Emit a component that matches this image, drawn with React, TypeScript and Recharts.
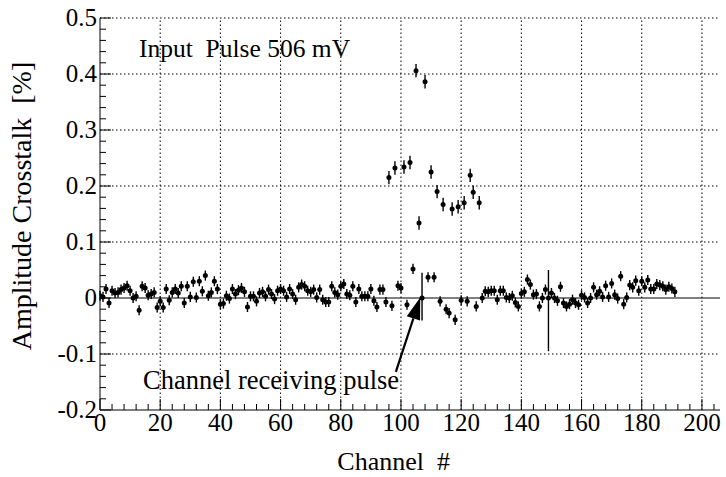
import React from "react";
import { ScatterChart, Scatter, XAxis, YAxis, ErrorBar, ReferenceLine } from "recharts";

// amplitude crosstalk [%] per channel, channel 0..191
const crosstalk = [
  0.004, 0.002, 0.016, -0.009, 0.013, 0.009, 0.010, 0.015, 0.018, 0.022,
  0.013, 0.000, 0.003, -0.022, 0.021, 0.018, 0.005, 0.007, 0.010, -0.017,
  -0.006, -0.017, 0.016, -0.004, 0.010, 0.016, 0.009, 0.021, -0.009, 0.021,
  0.002, 0.029, 0.001, 0.030, 0.012, 0.040, 0.004, 0.010, 0.030, 0.016,
  -0.011, -0.010, 0.004, -0.001, 0.016, 0.007, 0.014, 0.018, 0.011, -0.016,
  0.003, 0.003, -0.006, 0.009, 0.011, 0.003, 0.015, 0.007, -0.002, 0.013,
  0.016, 0.013, 0.002, 0.016, 0.007, -0.003, 0.019, 0.024, 0.021, 0.013,
  0.011, 0.015, 0.001, 0.015, -0.003, -0.007, -0.007, 0.021, 0.010, 0.006,
  0.021, 0.025, 0.007, 0.005, 0.021, -0.007, 0.016, 0.003, 0.003, 0.003,
  0.016, -0.005, -0.016, 0.015, 0.015, -0.007, 0.215, -0.014, 0.232, 0.022,
  0.018, 0.234, -0.012, 0.242, 0.052, 0.406, 0.134, 0.000, 0.386, 0.037,
  0.225, 0.037, 0.190, -0.006, 0.167, -0.020, -0.027, 0.159, -0.039, 0.163,
  -0.004, 0.170, -0.006, 0.219, 0.189, -0.015, 0.170, 0.000, 0.012, 0.011,
  0.013, 0.013, -0.003, 0.013, 0.013, 0.001, 0.000, 0.004, -0.008, -0.015,
  0.008, 0.011, 0.033, 0.024, 0.006, 0.007, -0.015, 0.000, 0.015, 0.000,
  0.009, 0.000, -0.005, 0.020, -0.009, -0.015, -0.011, -0.003, -0.009, -0.012,
  0.005, 0.001, -0.009, 0.000, 0.019, 0.006, 0.012, 0.002, 0.022, 0.002,
  0.026, 0.006, -0.001, 0.039, -0.011, 0.001, 0.023, 0.019, 0.031, 0.013,
  0.030, 0.019, 0.032, 0.016, 0.016, 0.025, 0.023, 0.021, 0.015, 0.020,
  0.017, 0.011,
];

// typical statistical error, and channels with a different error [low, high]
const baseError = 0.009;
const errorChannels = [96, 98, 101, 103, 105, 106, 108, 110, 112, 114, 117, 119, 121, 123, 124, 126, 107, 149];
const errorValues = [
  [0.012, 0.012], [0.012, 0.012], [0.012, 0.012], [0.012, 0.012], [0.012, 0.012], [0.012, 0.012],
  [0.012, 0.012], [0.012, 0.012], [0.012, 0.012], [0.012, 0.012], [0.012, 0.012], [0.012, 0.012],
  [0.012, 0.012], [0.012, 0.012], [0.012, 0.012], [0.012, 0.012], [0.04, 0.045], [0.095, 0.05],
];

const xMajorTicks = [0, 20, 40, 60, 80, 100, 120, 140, 160, 180, 200];
const yMajorTicks = [-0.2, -0.1, 0, 0.1, 0.2, 0.3, 0.4, 0.5];

const xTicks = Array.from({ length: 52 }, (_, i) => i * 4);
const yTicks = Array.from({ length: 36 }, (_, i) => Math.round((-0.2 + i * 0.02) * 100) / 100);

const data = crosstalk.map((v, ch) => {
  const k = errorChannels.indexOf(ch);
  return { channel: ch, crosstalk: v, err: k >= 0 ? errorValues[k] : [baseError, baseError] };
});

const SERIF = '"Liberation Serif", "Times New Roman", serif';

function XTick(props: any) {
  const { x, y, payload } = props;
  const v = payload.value;
  const major = xMajorTicks.includes(v);
  return (
    <g>
      <line x1={x} x2={x} y1={y} y2={y - (major ? 11 : 6)} stroke="#000" />
      {major && (
        <text x={x} y={y + 21} textAnchor="middle" fontFamily={SERIF} fontSize={25} fill="#000">
          {v}
        </text>
      )}
    </g>
  );
}

function YTick(props: any) {
  const { x, y, payload } = props;
  const v = payload.value;
  const major = yMajorTicks.some((t) => Math.abs(t - v) < 1e-9);
  return (
    <g>
      <line x1={x} x2={x + (major ? 11 : 6)} y1={y} y2={y} stroke="#000" />
      {major && (
        <text x={x - 3} y={y + 8} textAnchor="end" fontFamily={SERIF} fontSize={25} fill="#000">
          {v}
        </text>
      )}
    </g>
  );
}

function Arrow(props: any) {
  const { x1, y1, x2, y2 } = props;
  const len = Math.hypot(x2 - x1, y2 - y1);
  const ux = (x2 - x1) / len;
  const uy = (y2 - y1) / len;
  const hl = 22;
  const hw = 7;
  const bx = x2 - ux * hl;
  const by = y2 - uy * hl;
  return (
    <g>
      <line x1={x1} y1={y1} x2={bx} y2={by} stroke="#000" strokeWidth={2.2} />
      <polygon
        points={`${x2},${y2} ${bx - uy * hw},${by + ux * hw} ${bx + uy * hw},${by - ux * hw}`}
        fill="#000"
      />
    </g>
  );
}

const Dot = (p: any) => <circle cx={p.cx} cy={p.cy} r={2.5} fill="#000" />;

export default function App() {
  return (
    <div style={{ position: "absolute", left: 0, top: 0, width: 726, height: 477, background: "#fff" }}>
      <ScatterChart width={726} height={477} margin={{ top: 18, right: 6, bottom: 0, left: 0 }}>
        {xMajorTicks.slice(1).map((t) => (
          <ReferenceLine key={"gx" + t} x={t} stroke="#000" strokeDasharray="1.5 2.5" />
        ))}
        {yMajorTicks.filter((t) => t !== 0 && t !== -0.2).map((t) => (
          <ReferenceLine key={"gy" + t} y={t} stroke="#000" strokeDasharray="1.5 2.5" />
        ))}
        <ReferenceLine y={0} stroke="#000" strokeWidth={1} />
        <XAxis
          type="number"
          dataKey="channel"
          domain={[0, 206]}
          ticks={xTicks}
          interval={0}
          allowDataOverflow
          height={67}
          tickSize={0}
          tickMargin={0}
          tickLine={false}
          axisLine={{ stroke: "#000" }}
          tick={<XTick />}
        />
        <YAxis
          type="number"
          dataKey="crosstalk"
          domain={[-0.2, 0.5]}
          ticks={yTicks}
          interval={0}
          allowDataOverflow
          width={100}
          tickSize={0}
          tickMargin={0}
          tickLine={false}
          axisLine={{ stroke: "#000" }}
          tick={<YTick />}
        />
        <Scatter data={data} fill="#000" shape={Dot} isAnimationActive={false}>
          <ErrorBar dataKey="err" direction="y" width={0} stroke="#000" strokeWidth={1.4} />
        </Scatter>
        <ReferenceLine
          segment={[
            { x: 98.3, y: -0.132 },
            { x: 106.4, y: 0.001 },
          ]}
          stroke="#000"
          shape={Arrow}
        />
      </ScatterChart>
      <svg
        width={726}
        height={477}
        style={{ position: "absolute", left: 0, top: 0, pointerEvents: "none" }}
        fontFamily={SERIF}
      >
        <text x={139} y={57} fontSize={25.5} fill="#000" style={{ whiteSpace: "pre" }}>
          Input  Pulse 506 mV
        </text>
        <text x={143} y={389} fontSize={26.5} fill="#000">
          Channel receiving pulse
        </text>
        <text x={450} y={470} fontSize={26} fill="#000" textAnchor="end" style={{ whiteSpace: "pre" }}>
          Channel  #
        </text>
        <text
          x={0}
          y={0}
          fontSize={28}
          fill="#000"
          textAnchor="middle"
          transform="translate(31,206) rotate(-90)"
          style={{ whiteSpace: "pre" }}
        >
          Amplitude Crosstalk  [%]
        </text>
      </svg>
    </div>
  );
}
